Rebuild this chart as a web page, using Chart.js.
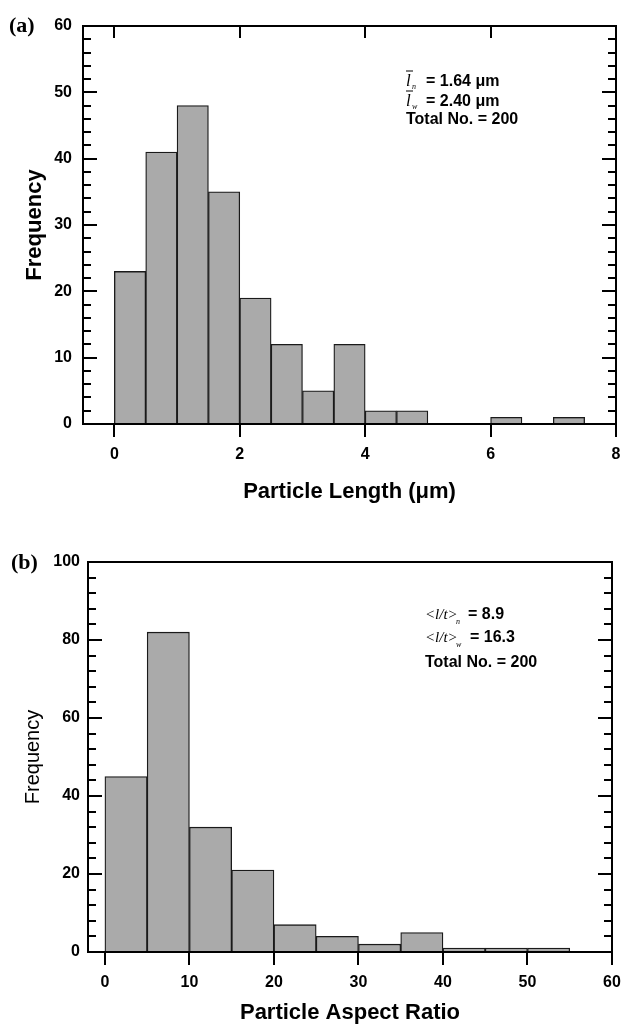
<!DOCTYPE html>
<html lang="en">
<head>
<meta charset="UTF-8">
<title>Particle length and aspect ratio distributions</title>
<script src="https://cdn.jsdelivr.net/npm/chart.js"></script>
<style>
  body { margin: 0; background: #fff; }
  canvas { position: absolute; left: 0; }
</style>
</head>
<body>
<canvas id="chartA" width="621" height="520" style="top:0px"></canvas>
<canvas id="chartB" width="621" height="507" style="top:520px"></canvas>
<script>
// (a) particle length histogram, bin centres (0.5 um wide bins) and counts
const lengthBins   = [0.25, 0.75, 1.25, 1.75, 2.25, 2.75, 3.25, 3.75, 4.25, 4.75, 5.25, 5.75, 6.25, 6.75, 7.25];
const lengthCounts = [23, 41, 48, 35, 19, 12, 5, 12, 2, 2, 0, 0, 1, 0, 1];
const lengthTicks  = [0, 2, 4, 6, 8];
const lengthFreqTicks = [0, 10, 20, 30, 40, 50, 60];

// (b) aspect ratio histogram, bins 5 wide
const ratioBins   = [2.5, 7.5, 12.5, 17.5, 22.5, 27.5, 32.5, 37.5, 42.5, 47.5, 52.5];
const ratioCounts = [45, 82, 32, 21, 7, 4, 2, 5, 1, 1, 1];
const ratioTicks  = [0, 10, 20, 30, 40, 50, 60];
const ratioFreqTicks = [0, 20, 40, 60, 80, 100];

const SANS = '"Liberation Sans", Arial, Helvetica, sans-serif';
const SERIF = '"Liberation Serif", "Times New Roman", serif';
Chart.defaults.color = '#000';
Chart.defaults.font.family = SANS;

// box frame + inward/outward tick marks like the original plot
const framePlugin = {
    id: 'frame',
    afterDatasetsDraw(chart, args, opts) {
        const {ctx, chartArea: a, scales: {x, y}} = chart;
        ctx.save();
        ctx.strokeStyle = '#000';
        ctx.lineWidth = 2;
        ctx.strokeRect(a.left, a.top, a.right - a.left, a.bottom - a.top);
        ctx.beginPath();
        for (let v = y.min; v <= y.max + 1e-9; v += opts.minorStep) {
            const py = Math.round(y.getPixelForValue(v));
            const major = Math.abs(v / opts.majorStep - Math.round(v / opts.majorStep)) < 1e-6;
            const len = major ? 14 : 8;
            ctx.moveTo(a.left, py);  ctx.lineTo(a.left + len, py);
            ctx.moveTo(a.right, py); ctx.lineTo(a.right - len, py);
        }
        x.ticks.forEach(t => {
            const px = Math.round(x.getPixelForValue(t.value));
            ctx.moveTo(px, a.bottom); ctx.lineTo(px, a.bottom + 13);
            if (opts.topTicks) { ctx.moveTo(px, a.top); ctx.lineTo(px, a.top + 12); }
        });
        ctx.stroke();
        ctx.restore();
    },
    afterDraw(chart, args, opts) {
        const ctx = chart.ctx;
        ctx.save();
        ctx.fillStyle = '#000';
        ctx.textBaseline = 'middle';
        ctx.textAlign = 'left';
        ctx.font = 'bold 22px ' + SERIF;
        ctx.fillText(opts.panel, opts.panelX, opts.panelY);
        if (opts.drawNotes) opts.drawNotes(ctx);
        ctx.restore();
    }
};

function meanSymbol(ctx, x, y, sub) {
    ctx.font = 'italic 17px ' + SERIF;
    ctx.fillText('l', x, y);
    ctx.lineWidth = 1;
    ctx.beginPath();
    ctx.moveTo(x, y - 11); ctx.lineTo(x + 7, y - 11);
    ctx.stroke();
    ctx.font = 'italic 8px ' + SERIF;
    ctx.fillText(sub, x + 6, y + 5);
}

function ratioSymbol(ctx, x, y, sub) {
    ctx.font = 'italic 15px ' + SERIF;
    ctx.fillText('<l/t>', x, y);
    ctx.font = 'italic 8px ' + SERIF;
    ctx.fillText(sub, x + 31, y + 7);
}

function makeHist(id, cfg) {
    return new Chart(document.getElementById(id), {
        type: 'bar',
        data: {
            datasets: [{
                data: cfg.bins.map((b, i) => ({x: b, y: cfg.counts[i]})),
                backgroundColor: '#aaaaaa',
                borderColor: '#1a1a1a',
                borderWidth: 1.3,
                barPercentage: 1,
                categoryPercentage: 1
            }]
        },
        options: {
            responsive: false,
            animation: false,
            devicePixelRatio: 1,
            layout: { padding: {top: cfg.top, right: cfg.right, left: 0, bottom: 0} },
            scales: {
                x: {
                    type: 'linear',
                    offset: false,
                    min: cfg.xMin, max: cfg.xMax,
                    afterBuildTicks: s => { s.ticks = cfg.xTicks.map(v => ({value: v})); },
                    afterFit: s => { s.height = cfg.xHeight; s.paddingLeft = 0; s.paddingRight = 0; },
                    grid: { display: false, drawTicks: false },
                    border: { display: false },
                    ticks: { padding: 21, maxRotation: 0, autoSkip: false, font: {size: 16, weight: 'bold'} },
                    title: {
                        display: true, text: cfg.xTitle,
                        font: {size: 22, weight: 'bold'},
                        padding: {top: 0, bottom: cfg.xTitlePad}
                    }
                },
                y: {
                    min: cfg.yMin, max: cfg.yMax,
                    afterBuildTicks: s => { s.ticks = cfg.yTicks.map(v => ({value: v})); },
                    afterFit: s => { s.width = cfg.yWidth; s.paddingTop = 0; s.paddingBottom = 0; },
                    grid: { display: false, drawTicks: false },
                    border: { display: false },
                    ticks: { padding: cfg.yTickPad, font: {size: 16, weight: 'bold'} },
                    title: {
                        display: true, text: 'Frequency',
                        font: cfg.yTitleFont,
                        padding: {top: cfg.yTitlePad, bottom: 0}
                    }
                }
            },
            plugins: {
                legend: { display: false },
                tooltip: { enabled: false },
                frame: cfg.frame
            }
        },
        plugins: [framePlugin]
    });
}

makeHist('chartA', {
    bins: lengthBins, counts: lengthCounts,
    xMin: -0.5, xMax: 8, xTicks: lengthTicks,
    yMin: 0, yMax: 60, yTicks: lengthFreqTicks,
    top: 26, right: 5, xHeight: 96, yWidth: 83,
    yTickPad: 11, xTitlePad: 15, yTitlePad: 22,
    xTitle: 'Particle Length (\u03bcm)',
    yTitleFont: {size: 22, weight: 'bold'},
    frame: {
        minorStep: 2, majorStep: 10, topTicks: true,
        panel: '(a)', panelX: 9, panelY: 26,
        drawNotes: ctx => {
            meanSymbol(ctx, 406, 82, 'n');
            meanSymbol(ctx, 406, 102, 'w');
            ctx.font = 'bold 16px ' + SANS;
            ctx.fillText('= 1.64 \u03bcm', 426, 82);
            ctx.fillText('= 2.40 \u03bcm', 426, 102);
            ctx.fillText('Total No. = 200', 406, 120);
        }
    }
});

makeHist('chartB', {
    bins: ratioBins, counts: ratioCounts,
    xMin: -2, xMax: 60, xTicks: ratioTicks,
    yMin: 0, yMax: 100, yTicks: ratioFreqTicks,
    top: 42, right: 9, xHeight: 75, yWidth: 88,
    yTickPad: 8, xTitlePad: 1, yTitlePad: 21,
    xTitle: 'Particle Aspect Ratio',
    yTitleFont: {size: 20, weight: 'normal'},
    frame: {
        minorStep: 4, majorStep: 20, topTicks: false,
        panel: '(b)', panelX: 11, panelY: 43,
        drawNotes: ctx => {
            ratioSymbol(ctx, 425, 95, 'n');
            ratioSymbol(ctx, 425, 118, 'w');
            ctx.font = 'bold 16px ' + SANS;
            ctx.fillText('= 8.9', 468, 95);
            ctx.fillText('= 16.3', 470, 118);
            ctx.fillText('Total No. = 200', 425, 143);
        }
    }
});
</script>
</body>
</html>
